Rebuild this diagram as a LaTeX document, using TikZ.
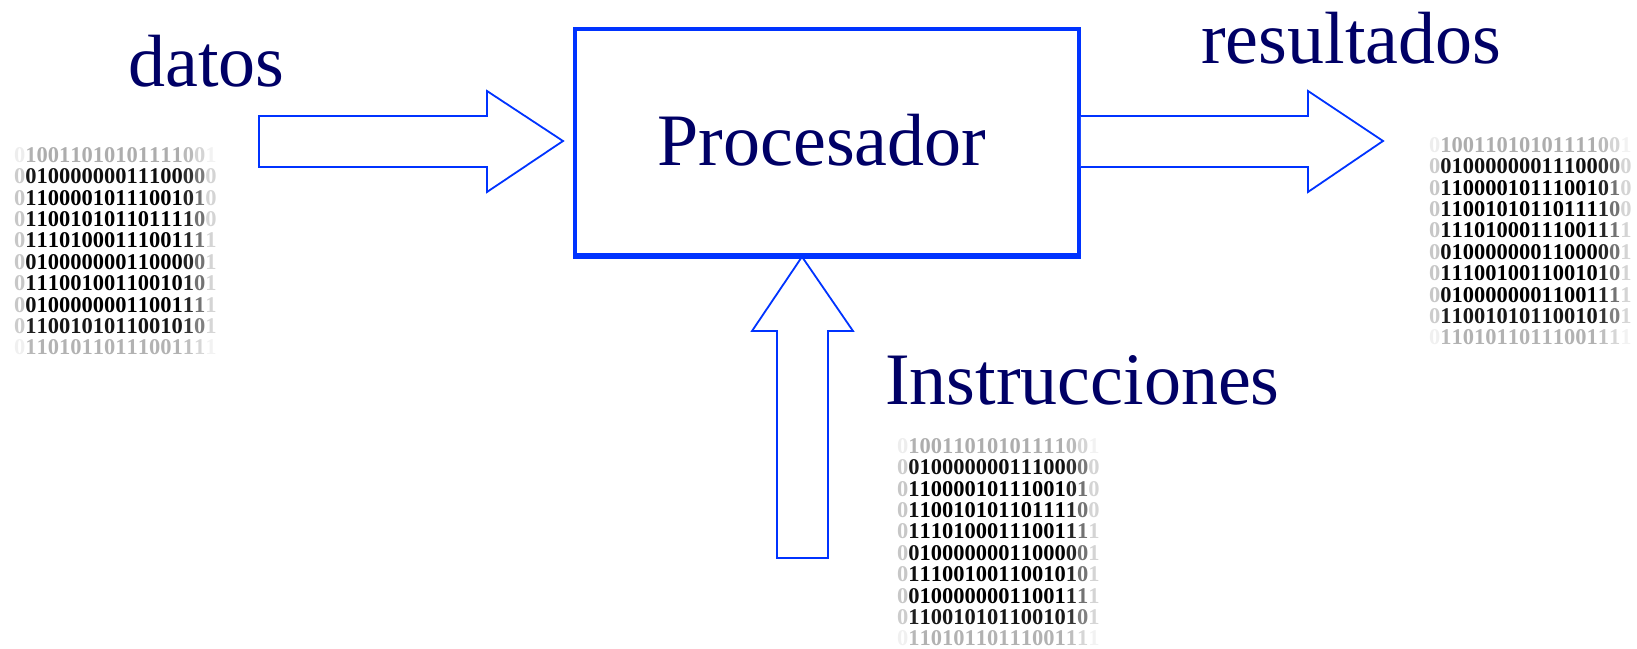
\documentclass[tikz,border=0pt]{standalone}
\usepackage{fontspec}
\setmainfont{Liberation Serif}
\definecolor{ink}{RGB}{0,0,102}
\definecolor{wire}{RGB}{0,51,255}
\tikzset{
  word/.style={text=ink, font=\fontsize{74}{80}\selectfont, inner sep=0},
  blockarrow/.style={draw=wire, line width=1.8pt, fill=white, line join=miter},
  cpu/.style={draw=wire, line width=3.5pt, minimum width=504pt, minimum height=226pt, inner sep=0},
  bits/.style={font=\bfseries\fontsize{22.5}{22.5}\selectfont, inner sep=0, anchor=west},
}
% rows of the binary listing
\newcommand\bitrows{%
{0,1,0,0,1,1,0,1,0,1,0,1,1,1,1,0,0,1},%
{0,0,1,0,0,0,0,0,0,0,1,1,1,0,0,0,0,0},%
{0,1,1,0,0,0,0,1,0,1,1,1,0,0,1,0,1,0},%
{0,1,1,0,0,1,0,1,0,1,1,0,1,1,1,1,0,0},%
{0,1,1,1,0,1,0,0,0,1,1,1,0,0,1,1,1,1},%
{0,0,1,0,0,0,0,0,0,0,1,1,0,0,0,0,0,1},%
{0,1,1,1,0,0,1,0,0,1,1,0,0,1,0,1,0,1},%
{0,0,1,0,0,0,0,0,0,0,1,1,0,0,1,1,1,1},%
{0,1,1,0,0,1,0,1,0,1,1,0,0,1,0,1,0,1},%
{0,1,1,0,1,0,1,1,0,1,1,1,0,0,1,1,1,1}}
% a listing whose edges fade to white: name, left x, centre y of first row
\newcommand\bitblock[3]{%
  \foreach \bitline [count=\r] in \bitrows {%
    \pgfmathsetmacro\rf{{0.68,0.05,0,0,0,0,0,0,0.08,0.7}[\r-1]}%
    \node[bits] (#1-\r) at (#2, #3+21.4*\r-21.4) {\foreach \d [count=\c] in \bitline {\pgfmathsetmacro\cf{{0.78,0.05,0,0,0,0,0,0,0,0,0,0,0,0,0,0.15,0.45,0.82}[\c-1]}\pgfmathtruncatemacro\k{100*(1-\cf)*(1-\rf)}\textcolor{black!\k}{\d}}};
  }%
}
\begin{document}
\begin{tikzpicture}[x=1pt, y=-1pt]
  \useasboundingbox (0,0) rectangle (1637,648);

  % the processor
  \node[cpu] (proc) at (827,142) {};
  \node[word, anchor=base] (proclabel) at (822,165) {Procesador};

  % input data arrow
  \coordinate (intip) at (563,141);
  \draw[blockarrow] (intip) -- (487,91) -- (487,116) -- (259,116) -- (259,167) -- (487,167) -- (487,192) -- cycle;

  % output arrow, leaving the box
  \coordinate (outtip) at (1383,141);
  \draw[blockarrow] (proc.east |- 0,116) -- (1308,116) -- (1308,91) -- (outtip) -- (1308,192) -- (1308,167) -- (proc.east |- 0,167);

  % instruction arrow, pointing at the box
  \coordinate (uptip) at (proc.south -| 802,0);
  \draw[blockarrow] (uptip) -- (853,331) -- (828,331) -- (828,558) -- (777,558) -- (777,331) -- (752,331) -- cycle;
  \draw[draw=wire, line width=3.5pt] (proc.south west) -- (proc.south east);

  % labels
  \node[word, anchor=base west] (datos) at (128,86) {datos};
  \node[word, anchor=base west] (res) at (1201,63) {resultados};
  \node[word, anchor=base west] (instr) at (885,404) {Instrucciones};

  % binary listings
  \bitblock{inbits}{14}{155}
  \bitblock{outbits}{1429}{145}
  \bitblock{progbits}{897}{446}
\end{tikzpicture}
\end{document}
